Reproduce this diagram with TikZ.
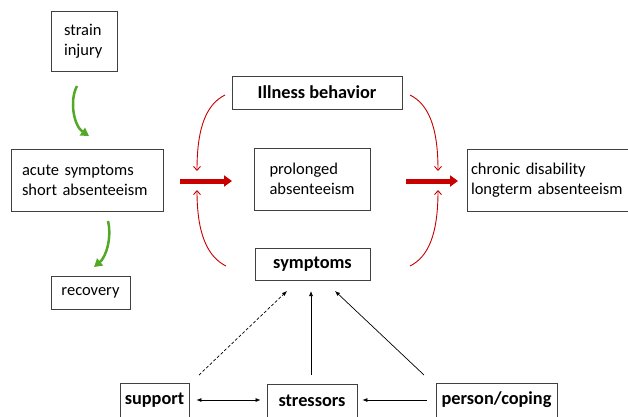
\documentclass[tikz,border=0pt]{standalone}
\usepackage{fontspec}
\setmainfont{Carlito}
\usetikzlibrary{arrows.meta}
\definecolor{redc}{RGB}{200,0,0}
\definecolor{greenc}{RGB}{84,168,40}
\begin{document}
\begin{tikzpicture}[x=1pt,y=-1pt,
  box/.style={draw=black!75, line width=0.8pt, inner xsep=2pt, font=\fontsize{16.5}{20}\selectfont},
  bbox/.style={box, font=\fontsize{18.3}{22}\selectfont\bfseries, align=center},
  redbig/.style={draw=redc, line width=5pt, -{Triangle[length=8pt,width=11pt]}},
  redthin/.style={draw=redc, line width=0.9pt, -{Straight Barb[length=4pt,width=7pt]}},
  greenarr/.style={draw=greenc, line width=2.5pt, -{Triangle[length=8pt,width=9pt]}},
  blackarr/.style={draw=black, line width=0.7pt, -{Latex[length=5pt,width=4pt]}},
  blackdbl/.style={draw=black, line width=0.7pt, {Latex[length=5pt,width=4pt]}-{Latex[length=5pt,width=4pt]}}]
\useasboundingbox (0,0) rectangle (628,416);
\clip (0,0) rectangle (628,416);

% boxes
\node[box, minimum height=60pt, text width=40pt, inner xsep=13pt, align=left] (strain) at (84,41) {strain\\injury};
\node[box, minimum height=62pt, text width=130pt, inner xsep=11pt, align=left] (acute) at (87,180) {acute symptoms\\short absenteeism};
\node[box, minimum width=79pt, minimum height=33pt, align=center] (recovery) at (90.5,292.5) {recovery};
\node[bbox, minimum width=170pt, minimum height=33pt] (illness) at (317,92.5) {Illness behavior};
\node[box, minimum width=116pt, minimum height=62pt, align=left] (prolonged) at (312,179) {prolonged\\absenteeism};
\node[bbox, minimum width=115pt, minimum height=32pt] (symptoms) at (312.5,264) {symptoms};
\node[box, minimum height=62pt, text width=157pt, inner xsep=4pt, align=left] (chronic) at (549.5,180) {chronic disability\\longterm absenteeism};
\node[bbox, minimum width=69pt, minimum height=34pt] (support) at (154.5,400) {support};
\node[bbox, minimum width=90pt, minimum height=34pt] (stressors) at (312,401) {stressors};
\node[bbox, minimum width=121pt, minimum height=34pt] (person) at (496.5,400) {person/coping};

% free ends
\coordinate (g1s) at (77,86);
\coordinate (g1e) at (89,136);
\coordinate (g2s) at (108,221);
\coordinate (g2e) at (94,267);
\coordinate (r1s) at (180,181);
\coordinate (r1e) at (232,181);
\coordinate (r2s) at (406,181);
\coordinate (r2e) at (458,181);
\coordinate (tl) at (225,95);
\coordinate (tlE) at (197,171);
\coordinate (bl) at (226,266);
\coordinate (blE) at (197,190);
\coordinate (tr) at (410,95);
\coordinate (trE) at (438,171);
\coordinate (br) at (410,266);
\coordinate (brE) at (438,190);
\coordinate (ds) at (199,375);
\coordinate (de) at (287,291);
\coordinate (vs) at (311,375);
\coordinate (ve) at (311,291);
\coordinate (ps) at (424,375);
\coordinate (pe) at (335,291);

% green arrows
\draw[greenarr] (g1s) .. controls (69,101) and (74,126) .. (g1e);
\draw[greenarr] (g2s) .. controls (112,238) and (106,257) .. (g2e);

% red thick arrows
\draw[redbig] (r1s) -- (r1e);
\draw[redbig] (r2s) -- (r2e);

% red thin curves
\draw[redthin] (tl) .. controls (207,104) and (197,126) .. (tlE);
\draw[redthin] (bl) .. controls (208,257) and (197,235) .. (blE);
\draw[redthin] (tr) .. controls (428,104) and (438,126) .. (trE);
\draw[redthin] (br) .. controls (428,257) and (438,235) .. (brE);

% black arrows
\draw[blackarr, dash pattern=on 3pt off 2pt] (ds) -- (de);
\draw[blackarr] (vs) -- (ve);
\draw[blackarr] (ps) -- (pe);
\draw[blackdbl, shorten <=7pt, shorten >=6pt] (support.east) -- (stressors.west |- support.east);
\draw[blackarr, shorten <=9pt, shorten >=5pt] (person.west) -- (stressors.east |- person.west);
\end{tikzpicture}
\end{document}
